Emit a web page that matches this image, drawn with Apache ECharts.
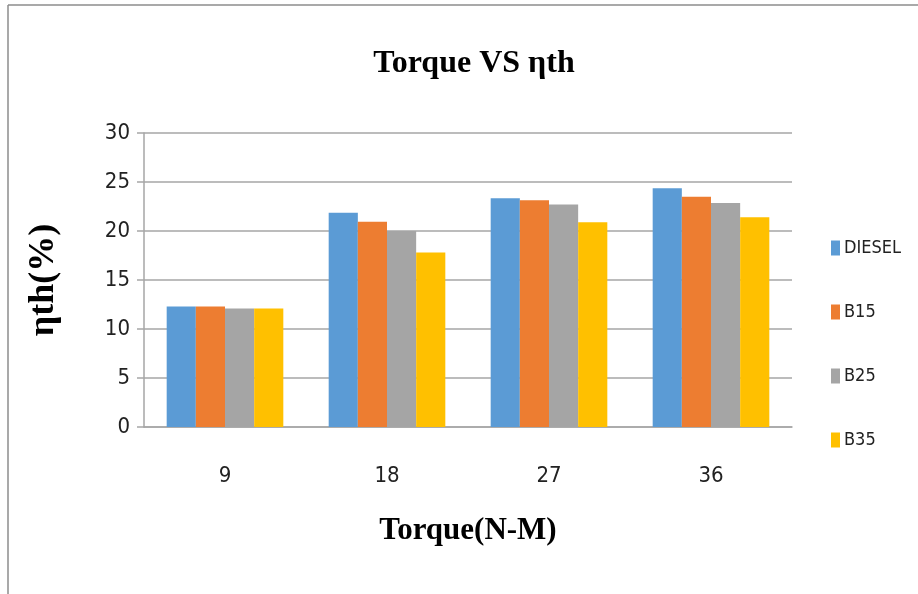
<!DOCTYPE html>
<html><head><meta charset="utf-8">
<script src="https://cdn.jsdelivr.net/npm/echarts@6/dist/echarts.min.js"></script>
<style>html,body{margin:0;padding:0;background:#fff}#c{width:918px;height:594px}</style>
</head><body><div id="c"></div>
<script>
const categories = ['9', '18', '27', '36'];
const diesel = [12.3, 21.85, 23.35, 24.35];
const b15 = [12.3, 20.95, 23.15, 23.5];
const b25 = [12.1, 20.0, 22.7, 22.85];
const b35 = [12.1, 17.8, 20.9, 21.4];
const yTicks = [0, 5, 10, 15, 20, 25, 30];

const narrow = '"Liberation Sans Narrow", "DejaVu Sans Condensed", "Liberation Sans", sans-serif';
const serif = '"Liberation Serif", serif';

const chart = echarts.init(document.getElementById('c'));
const mk = (name, data, color) => ({
  name, type: 'bar', data, barGap: '0%', barCategoryGap: '28%',
  itemStyle: { color }
});
chart.setOption({
  animation: false,
  title: {
    text: 'Torque VS ηth', left: 469, top: 43, textAlign: 'center',
    textStyle: { fontFamily: serif, fontWeight: 'bold', fontSize: 32, color: '#000' }
  },
  grid: { left: 144, right: 126, top: 133, bottom: 167 },
  legend: {
    orient: 'vertical', left: 826, top: 234, itemWidth: 9, itemHeight: 15, itemGap: 46,
    icon: 'rect',
    textStyle: { fontFamily: narrow, fontSize: 18, color: '#222', padding: [0, 0, 0, -1] },
    data: ['DIESEL', 'B15', 'B25', 'B35']
  },
  xAxis: {
    type: 'category', data: categories,
    name: 'Torque(N-M)', nameLocation: 'middle', nameGap: 88,
    nameTextStyle: { fontFamily: serif, fontWeight: 'bold', fontSize: 31, color: '#000' },
    axisLine: { lineStyle: { color: '#a6a6a6', width: 1.5 } },
    axisTick: { show: false },
    axisLabel: { fontFamily: narrow, fontSize: 22, color: '#222', margin: 38 }
  },
  yAxis: {
    type: 'value', min: 0, max: 30, interval: 5,
    name: 'ηth(%)', nameLocation: 'middle', nameGap: 82, nameRotate: 90,
    nameTextStyle: { fontFamily: serif, fontWeight: 'bold', fontSize: 36, color: '#000' },
    axisLine: { show: true, lineStyle: { color: '#a6a6a6', width: 1.5 } },
    axisTick: { show: true, length: 7, lineStyle: { color: '#a6a6a6', width: 1.5 } },
    splitLine: { lineStyle: { color: '#a6a6a6', width: 1.5 } },
    axisLabel: {
      fontFamily: narrow, fontSize: 22, color: '#222', margin: 14,
      formatter: v => yTicks.includes(v) ? String(v) : ''
    }
  },
  graphic: [
    { type: 'line', shape: { x1: 8, y1: 5, x2: 918, y2: 5 }, style: { stroke: '#8c8c8c', lineWidth: 1.5 } },
    { type: 'line', shape: { x1: 8, y1: 5, x2: 8, y2: 594 }, style: { stroke: '#8c8c8c', lineWidth: 1.5 } }
  ],
  series: [
    mk('DIESEL', diesel, '#5b9bd5'),
    mk('B15', b15, '#ed7d31'),
    mk('B25', b25, '#a5a5a5'),
    mk('B35', b35, '#ffc000')
  ]
});
</script></body></html>
